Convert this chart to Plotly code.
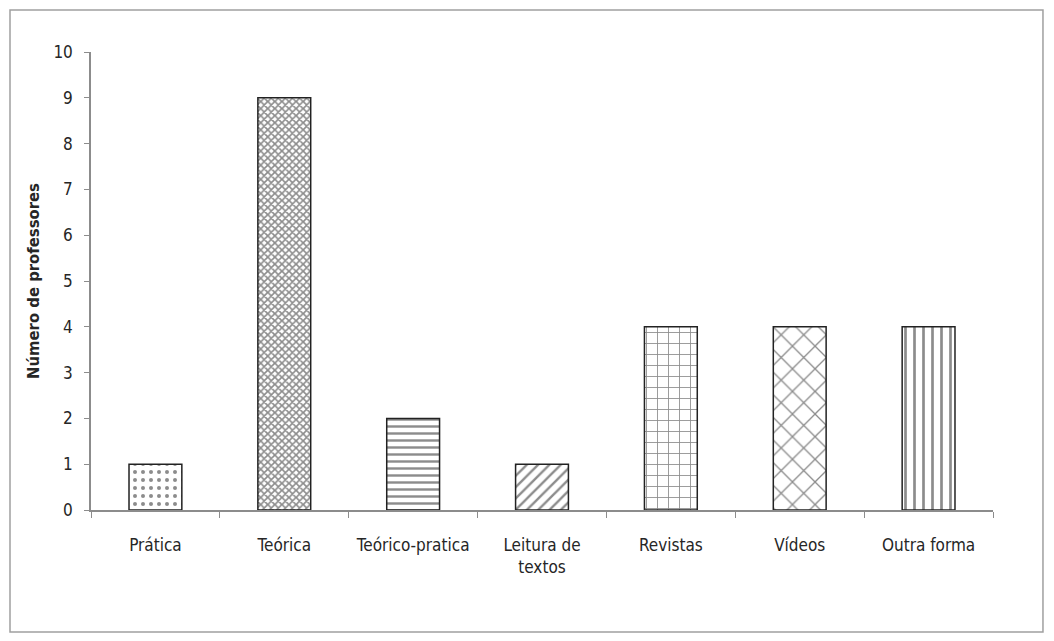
import plotly.graph_objects as go

categories = ["Prática", "Teórica", "Teórico-pratica", "Leitura de<br>textos", "Revistas", "Vídeos", "Outra forma"]
values = [1, 9, 2, 1, 4, 4, 4]
y_ticks = list(range(0, 11))

shapes = [".", "x", "-", "/", "+", "x", "|"]
sizes = [8, 5, 7, 8, 11, 16, 9]
solidity = [0.2, 0.55, 0.35, 0.3, 0.15, 0.16, 0.3]

FONT = "DejaVu Sans Condensed, Liberation Sans Narrow, Arial Narrow, sans-serif"

fig = go.Figure()
fig.add_trace(go.Bar(
    x=categories, y=values,
    marker=dict(
        color="white",
        line=dict(color="#222222", width=1.5),
        pattern=dict(shape=shapes, size=sizes, solidity=solidity,
                     fgcolor="#1a1a1a", bgcolor="white", fillmode="overlay"),
    ),
    width=0.41,
))

fig.update_layout(
    width=1054, height=641,
    margin=dict(l=91, r=61, t=52, b=131),
    paper_bgcolor="white", plot_bgcolor="white",
    font=dict(family=FONT, size=17, color="#262626"),
    showlegend=False,
    xaxis=dict(showline=True, linecolor="#8c8c8c", linewidth=1.5,
               ticks="outside", tickson="boundaries", ticklen=6, tickcolor="#8c8c8c",
               showgrid=False, tickfont=dict(size=17), tickangle=0, ticklabelstandoff=19),
    yaxis=dict(range=[0, 10], tickvals=y_ticks, showline=True, linecolor="#8c8c8c", linewidth=1.5,
               ticks="outside", ticklen=5, tickcolor="#8c8c8c", showgrid=False, zeroline=False,
               tickfont=dict(size=17), ticklabelstandoff=8,
               title=dict(text="<b>Número de professores</b>", font=dict(size=16.5), standoff=10)),
    shapes=[dict(type="rect", xref="paper", yref="paper",
                 x0=-0.0898, x1=1.0554, y0=-0.2664, y1=1.0917,
                 line=dict(color="#a0a0a0", width=1.5), fillcolor="rgba(0,0,0,0)")],
)

fig.write_html("out.html")
